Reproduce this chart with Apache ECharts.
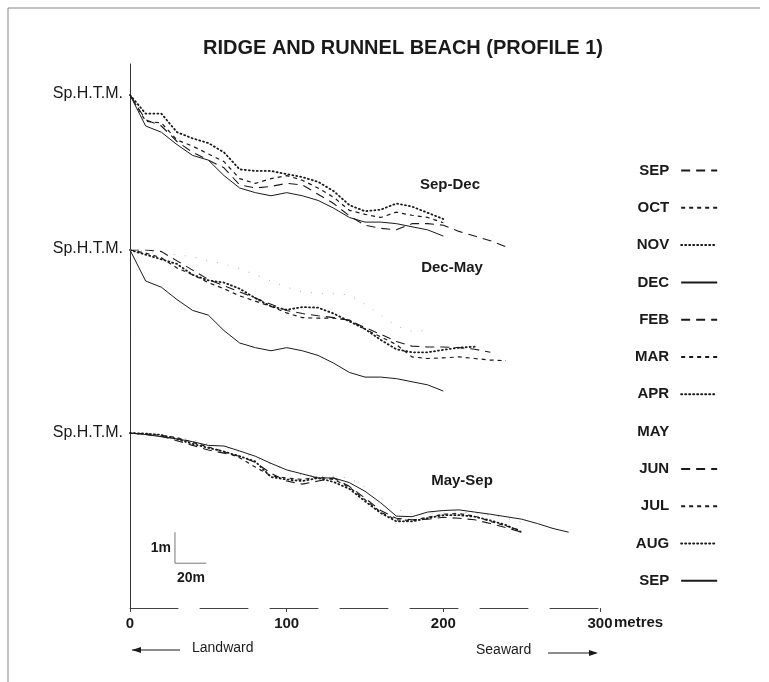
<!DOCTYPE html>
<html>
<head>
<meta charset="utf-8">
<title>Ridge and runnel beach</title>
<script src="https://cdn.jsdelivr.net/npm/echarts@6/dist/echarts.min.js"></script>
<style>
  html, body { margin: 0; padding: 0; background: #fff; }
  #chart { width: 769px; height: 682px; }
</style>
</head>
<body>
<div id="chart"></div>
<script>
// distance from Sp.H.T.M. (metres), every 10 m
var dist = [0, 10, 20, 30, 40, 50, 60, 70, 80, 90, 100, 110, 120, 130, 140, 150, 160, 170, 180, 190, 200, 210, 220, 230, 240, 250, 260, 270, 280];
var xTicks = [0, 100, 200, 300];

// elevation (m) relative to Sp.H.T.M.
// Sep-Dec
var sep1 = [0, -0.8, -1.0, -1.5, -1.85, -2.1, -2.35, -2.9, -3.0, -2.95, -2.85, -2.9, -3.2, -3.5, -3.9, -4.2, -4.3, -4.35, -4.15, -4.15, -4.2, -4.4, -4.55, -4.7, -4.9];
var oct = [0, -0.85, -0.9, -1.45, -1.65, -1.9, -2.15, -2.7, -2.85, -2.7, -2.6, -2.75, -3.0, -3.3, -3.72, -3.85, -3.95, -3.78, -3.88, -3.95, -4.12];
var nov = [0, -0.6, -0.6, -1.2, -1.4, -1.55, -1.85, -2.4, -2.45, -2.45, -2.55, -2.65, -2.8, -3.1, -3.55, -3.75, -3.7, -3.5, -3.6, -3.8, -4.0];
var dec = [0, -1.0, -1.2, -1.6, -1.95, -2.1, -2.6, -3.0, -3.15, -3.25, -3.15, -3.25, -3.4, -3.65, -3.95, -4.1, -4.1, -4.15, -4.25, -4.35, -4.55];
// Dec-May
var feb = [0, 0, -0.05, -0.35, -0.65, -0.95, -1.15, -1.35, -1.55, -1.75, -1.95, -2.05, -2.12, -2.18, -2.27, -2.5, -2.72, -2.95, -3.1, -3.13, -3.13, -3.15, -3.2, -3.3];
var mar = [0, -0.1, -0.25, -0.58, -0.8, -1.05, -1.25, -1.48, -1.65, -1.82, -2.03, -2.18, -2.2, -2.2, -2.26, -2.55, -2.8, -3.05, -3.45, -3.5, -3.48, -3.45, -3.5, -3.55, -3.57];
var apr = [0, -0.15, -0.3, -0.45, -0.8, -0.98, -1.05, -1.25, -1.55, -1.82, -1.93, -1.84, -1.86, -2.05, -2.3, -2.55, -2.9, -3.2, -3.3, -3.3, -3.22, -3.15, -3.12];
var may = [0, -0.05, -0.1, -0.15, -0.22, -0.35, -0.45, -0.6, -0.8, -1.0, -1.2, -1.35, -1.4, -1.4, -1.45, -1.75, -2.1, -2.45, -2.62, -2.6, -2.55, -2.55, -2.58, -2.65, -2.75, -2.88];
// May-Sep
var jun = [0, -0.05, -0.1, -0.25, -0.4, -0.55, -0.65, -0.75, -0.95, -1.3, -1.55, -1.65, -1.55, -1.45, -1.72, -2.1, -2.5, -2.75, -2.8, -2.78, -2.72, -2.75, -2.8, -2.92, -3.05, -3.2];
var jul = [0, -0.03, -0.08, -0.15, -0.3, -0.45, -0.6, -0.8, -1.1, -1.38, -1.45, -1.5, -1.42, -1.5, -1.75, -2.15, -2.55, -2.8, -2.82, -2.72, -2.62, -2.6, -2.68, -2.85, -3.0, -3.15];
var aug = [0, -0.02, -0.06, -0.2, -0.35, -0.48, -0.6, -0.75, -0.92, -1.42, -1.5, -1.55, -1.45, -1.58, -1.8, -2.2, -2.58, -2.85, -2.85, -2.75, -2.65, -2.65, -2.7, -2.82, -2.97, -3.2];
var sep2 = [0, -0.05, -0.12, -0.19, -0.28, -0.4, -0.42, -0.58, -0.75, -0.98, -1.19, -1.32, -1.45, -1.45, -1.6, -1.88, -2.25, -2.68, -2.7, -2.55, -2.5, -2.48, -2.55, -2.62, -2.7, -2.78, -2.92, -3.08, -3.2];

// 1m / 20m scale bar, in metres on the May-Sep panel
var scaleBar = [[28.7, -3.2], [28.7, -4.2], [48.7, -4.2]];

var font = '"Liberation Sans", Arial, Helvetica, sans-serif';
var ink = '#1a1a1a';

var longDash = { type: [9, 6], width: 1.1 };
var shortDash = { type: [4, 4], width: 1.2 };
var dotted = { type: [1, 3], width: 1.8, cap: 'round' };
var solid = { type: 'solid', width: 1 };
var fine = { type: [1, 10], width: 1, color: '#aaa' };

// panel tops (px) where Sp.H.T.M. sits, 31px per metre down, ~1.567px per metre across
var panelTop = [95, 250, 433];

function pts(vals) {
	return vals.map(function (v, i) { return [dist[i], v]; });
}

function profile(name, panel, vals, style) {
	var ls = { color: ink, type: style.type, width: style.width };
	if (style.cap) ls.cap = style.cap;
	if (style.color) ls.color = style.color;
	return {
		name: name,
		type: 'line',
		xAxisIndex: panel + 1,
		yAxisIndex: panel + 1,
		data: pts(vals),
		symbol: 'none',
		silent: true,
		itemStyle: { color: ls.color },
		lineStyle: ls
	};
}

var grids = [{ left: 130, right: 169, top: 64, bottom: 74 }];
var xAxes = [{
	type: 'value', gridIndex: 0, min: 0, max: 300, interval: 100,
	axisLine: { lineStyle: { color: '#444', type: [48, 22], width: 1 } },
	axisTick: { length: 4, lineStyle: { color: '#444' } },
	splitLine: { show: false },
	axisLabel: {
		color: ink, fontSize: 15, fontWeight: 'bold', fontFamily: font, margin: 8,
		formatter: function (v) { return xTicks.indexOf(v) >= 0 ? String(v) : ''; }
	}
}];
var yAxes = [{
	type: 'value', gridIndex: 0, min: 0, max: 1,
	axisLine: { show: true, lineStyle: { color: '#333', width: 1 } },
	axisTick: { show: false }, axisLabel: { show: false }, splitLine: { show: false }
}];
panelTop.forEach(function (t, i) {
	grids.push({ left: 130, right: 169, top: t, height: 186 });
	xAxes.push({ type: 'value', gridIndex: i + 1, min: 0, max: 300, show: false });
	yAxes.push({ type: 'value', gridIndex: i + 1, min: -6, max: 0, show: false });
});

var series = [
	profile('SEP1', 0, sep1, longDash),
	profile('OCT', 0, oct, shortDash),
	profile('NOV', 0, nov, dotted),
	profile('DEC', 0, dec, solid),
	profile('DEC', 1, dec, solid),
	profile('FEB', 1, feb, longDash),
	profile('MAR', 1, mar, shortDash),
	profile('APR', 1, apr, dotted),
	profile('MAY', 1, may.slice(0, 20), fine),
	profile('MAY', 2, may, fine),
	profile('JUN', 2, jun, longDash),
	profile('JUL', 2, jul, shortDash),
	profile('AUG', 2, aug, dotted),
	profile('SEP2', 2, sep2, solid),
	{
		name: 'scale', type: 'line', xAxisIndex: 3, yAxisIndex: 3, data: scaleBar,
		symbol: 'none', silent: true, lineStyle: { color: '#777', width: 1 }
	}
];

function label(x, y, text, size, weight, align) {
	return {
		type: 'text', x: x, y: y, silent: true,
		style: {
			text: text, fill: ink, font: (weight || 'normal') + ' ' + size + 'px ' + font,
			align: align || 'left', verticalAlign: 'middle'
		}
	};
}

function seg(x1, y1, x2, y2, color) {
	return { type: 'line', silent: true, shape: { x1: x1, y1: y1, x2: x2, y2: y2 }, style: { stroke: color || ink, lineWidth: 1 } };
}

function arrowHead(x, y, dir) {
	return {
		type: 'polygon', silent: true,
		shape: { points: [[x, y], [x - dir * 9, y - 3], [x - dir * 9, y + 3]] },
		style: { fill: ink }
	};
}

var graphics = [
	seg(8, 8, 8, 682, '#888'),
	seg(8, 8, 760, 8, '#888'),
	label(123, 94, 'Sp.H.T.M.', 16, 'normal', 'right'),
	label(123, 249, 'Sp.H.T.M.', 16, 'normal', 'right'),
	label(123, 433, 'Sp.H.T.M.', 16, 'normal', 'right'),
	label(450, 185, 'Sep-Dec', 15, 'bold', 'center'),
	label(452, 268, 'Dec-May', 15, 'bold', 'center'),
	label(462, 481, 'May-Sep', 15, 'bold', 'center'),
	label(171, 548, '1m', 14, 'bold', 'right'),
	label(177, 578, '20m', 14, 'bold'),
	label(614, 623, 'metres', 15, 'bold'),
	seg(132, 650, 180, 650),
	arrowHead(132, 650, -1),
	label(192, 648, 'Landward', 14),
	label(476, 650, 'Seaward', 14),
	seg(548, 653, 596, 653),
	arrowHead(598, 653, 1)
];

var chart = echarts.init(document.getElementById('chart'));
chart.setOption({
	backgroundColor: '#ffffff',
	animation: false,
	title: {
		text: 'RIDGE AND RUNNEL BEACH (PROFILE 1)',
		left: 198, top: 33,
		textStyle: { color: ink, fontSize: 20, fontWeight: 'bold', fontFamily: font }
	},
	legend: {
		orient: 'vertical', left: 630, top: 158,
		align: 'right', itemWidth: 36, itemHeight: 14, itemGap: 22.3,
		selectedMode: false,
		itemStyle: { color: 'rgba(0,0,0,0)', borderWidth: 0, opacity: 0 },
		data: ['SEP1', 'OCT', 'NOV', 'DEC', 'FEB', 'MAR', 'APR',
			{ name: 'MAY', lineStyle: { opacity: 0 } },
			'JUN', 'JUL', 'AUG', 'SEP2'],
		formatter: function (name) { return name.replace(/\d/g, ''); },
		textStyle: { color: ink, fontSize: 15, fontWeight: 'bold', fontFamily: font, width: 38, padding: [0, 7, 0, 0] }
	},
	grid: grids,
	xAxis: xAxes,
	yAxis: yAxes,
	series: series,
	graphic: graphics
});
</script>
</body>
</html>
